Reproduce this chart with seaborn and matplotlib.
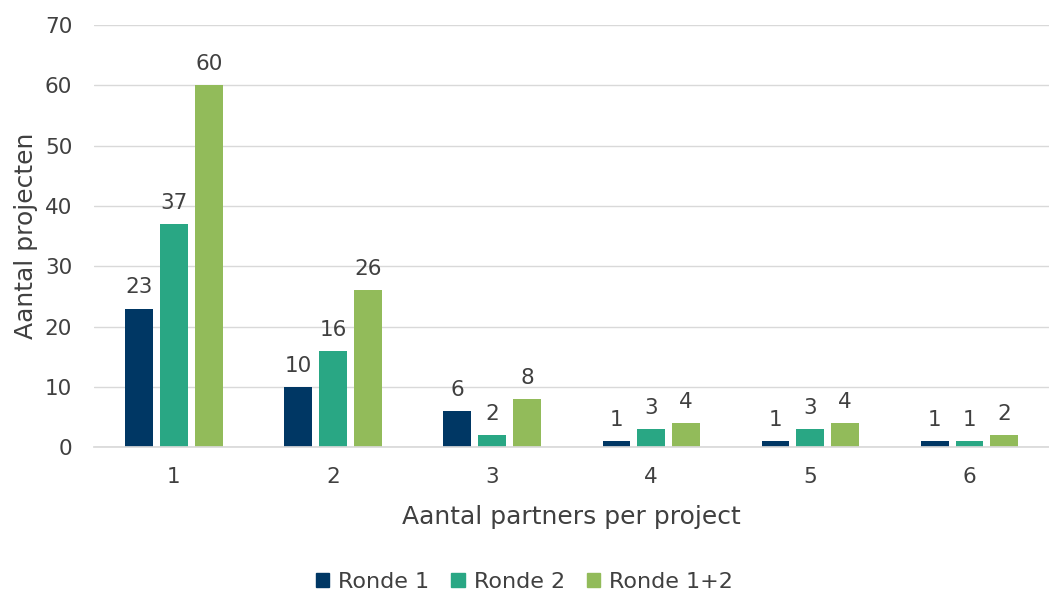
import matplotlib
matplotlib.use("Agg")
import matplotlib.pyplot as plt
import seaborn as sns
import pandas as pd

categories = ["1", "2", "3", "4", "5", "6"]
ronde1 = [23, 10, 6, 1, 1, 1]
ronde2 = [37, 16, 2, 3, 3, 1]
ronde12 = [60, 26, 8, 4, 4, 2]
series_names = ["Ronde 1", "Ronde 2", "Ronde 1+2"]
colors = ["#003764", "#29A784", "#92BB5A"]

rows = []
for name, vals in zip(series_names, [ronde1, ronde2, ronde12]):
    for c, v in zip(categories, vals):
        rows.append({"cat": c, "serie": name, "val": v})
df = pd.DataFrame(rows)

sns.set_theme(style="white")
plt.rcParams['font.family'] = ['DejaVu Sans']
txt = "#404040"

fig = plt.figure(figsize=(10.49, 5.94), dpi=100)
ax = fig.add_axes([0.09, 0.247, 0.91, 0.711])
sns.barplot(data=df, x="cat", y="val", hue="serie", palette=colors,
            saturation=1, linewidth=0,
            width=0.656, gap=0.2, ax=ax, order=categories,
            hue_order=series_names, legend=True)

for cont in ax.containers:
    ax.bar_label(cont, padding=8, fontsize=15.5, color=txt)

ax.set_ylim(0, 70)
ax.set_yticks(range(0, 71, 10))
ax.set_xlim(-0.5, 5.5)
ax.yaxis.grid(True, color="#D9D9D9", linewidth=1)
ax.set_axisbelow(True)
for s in ["top", "right", "left"]:
    ax.spines[s].set_visible(False)
ax.spines["bottom"].set_color("#D9D9D9")
ax.tick_params(axis="y", labelsize=15.5, colors=txt, length=0, pad=16)
ax.tick_params(axis="x", labelsize=15.5, colors=txt, length=0, pad=14)
ax.set_xlabel("Aantal partners per project", fontsize=18, color=txt, labelpad=13)
ax.set_ylabel("Aantal projecten", fontsize=18, color=txt, labelpad=5)

ax.legend_.remove()
handles = [plt.Rectangle((0, 0), 1, 1, color=c) for c in colors]
fig.legend(handles, series_names, loc="center", bbox_to_anchor=(0.5, 0.02),
           ncol=3, frameon=False, fontsize=16, labelcolor=txt,
           handlelength=0.6, handleheight=0.6, handletextpad=0.4, columnspacing=1.0)

fig.savefig("out.png", dpi=100)
